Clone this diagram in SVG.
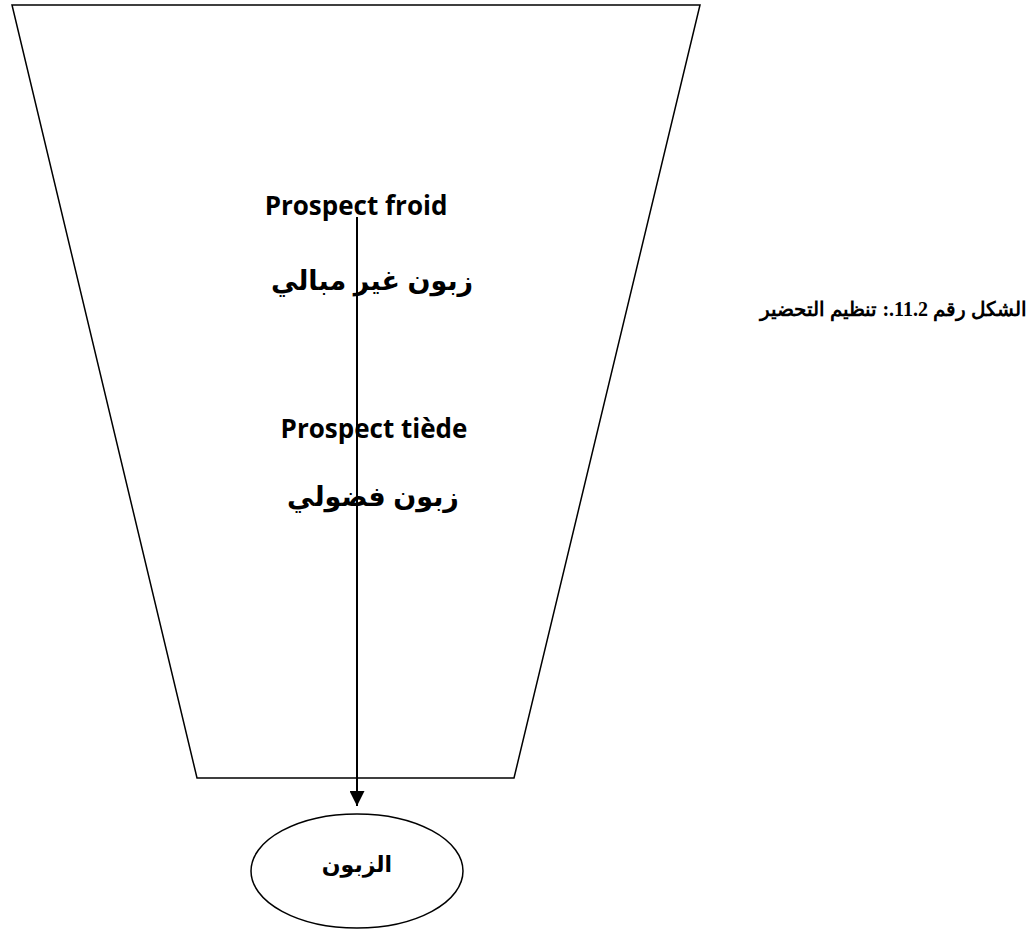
<svg xmlns="http://www.w3.org/2000/svg" width="1031" height="934" viewBox="0 0 1031 934">
  <style>
    .shape { fill: none; stroke: #000; stroke-width: 1.5; }
    .latin { font-family: "Open Sans", "Liberation Sans", sans-serif; font-weight: bold; font-size: 26px; fill: #000; }
    .arabic { font-family: "Liberation Sans", "DejaVu Sans", "Noto Sans", sans-serif; font-weight: bold; font-size: 27px; fill: #000; }
    .label { font-family: "Liberation Sans", "DejaVu Sans", "Noto Sans", sans-serif; font-weight: bold; font-size: 22px; fill: #000; }
    .caption { font-family: "Liberation Serif", "DejaVu Serif", serif; font-weight: bold; font-size: 20px; fill: #000; }
  </style>
  <defs>
    <marker id="arrow" viewBox="0 0 10 10" refX="10" refY="5" markerWidth="15" markerHeight="15" markerUnits="userSpaceOnUse" orient="auto">
      <path d="M0,0 L10,5 L0,10 Z" fill="#000"/>
    </marker>
  </defs>
  <rect width="1031" height="934" fill="#fff"/>

  <!-- funnel -->
  <g id="funnel">
    <polygon class="shape" points="12,5 700,5 514,778 197,778"/>
  </g>

  <!-- funnel labels -->
  <g id="stage-cold">
    <text class="latin" x="356" y="215" text-anchor="middle">Prospect froid</text>
    <text class="arabic" x="372" y="290" text-anchor="middle" direction="rtl">زبون غير مبالي</text>
  </g>
  <g id="stage-warm">
    <text class="latin" x="374" y="438" text-anchor="middle">Prospect tiède</text>
    <text class="arabic" x="373" y="506" text-anchor="middle" direction="rtl">زبون فضولي</text>
  </g>

  <!-- connectors -->
  <g id="connectors">
    <line x1="357" y1="217" x2="357" y2="806" stroke="#000" stroke-width="2" marker-end="url(#arrow)"/>
  </g>

  <!-- customer node -->
  <g id="customer">
    <ellipse class="shape" cx="357" cy="871" rx="106" ry="57"/>
    <text class="label" x="357" y="872" text-anchor="middle" direction="rtl">الزبون</text>
  </g>

  <!-- figure caption -->
  <g id="caption">
    <text class="caption" x="1027" y="316" text-anchor="start" direction="rtl">الشكل رقم 11.2.: تنظيم التحضير</text>
  </g>
</svg>
